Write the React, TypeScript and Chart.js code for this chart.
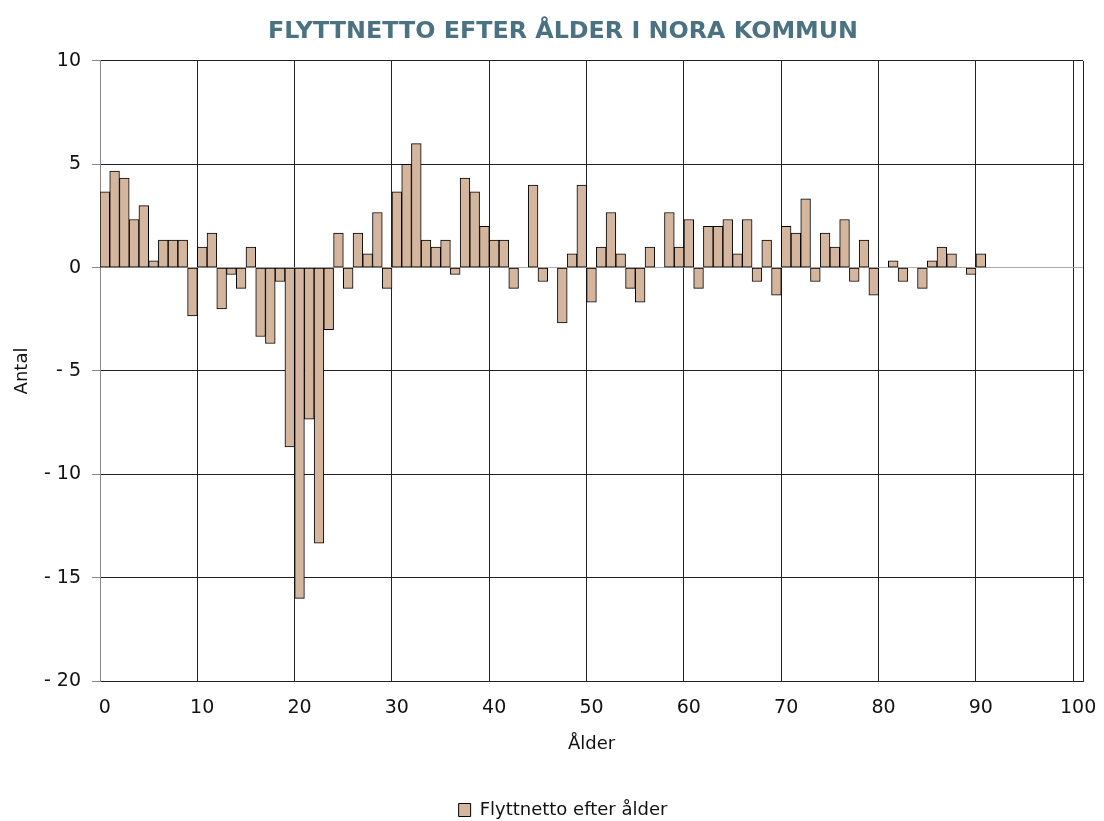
import React, { useEffect, useRef } from "react";
import { Chart, registerables } from "chart.js";

Chart.register(...registerables);

const CHART_TITLE = "FLYTTNETTO EFTER ÅLDER I NORA KOMMUN";
const SERIES_LABEL = "Flyttnetto efter ålder";
const X_TITLE = "Ålder";
const Y_TITLE = "Antal";

// Ages 0..100
const ages: string[] = Array.from({ length: 101 }, (_, i) => String(i));

// Net migration per age
const netMigration: number[] = [
  3.67, 4.67, 4.33, 2.33, 3.0, 0.33, 1.33, 1.33, 1.33, -2.33,
  1.0, 1.67, -2.0, -0.33, -1.0, 1.0, -3.33, -3.67, -0.67, -8.67,
  -16.0, -7.33, -13.33, -3.0, 1.67, -1.0, 1.67, 0.67, 2.67, -1.0,
  3.67, 5.0, 6.0, 1.33, 1.0, 1.33, -0.33, 4.33, 3.67, 2.0,
  1.33, 1.33, -1.0, 0, 4.0, -0.67, 0, -2.67, 0.67, 4.0,
  -1.67, 1.0, 2.67, 0.67, -1.0, -1.67, 1.0, 0, 2.67, 1.0,
  2.33, -1.0, 2.0, 2.0, 2.33, 0.67, 2.33, -0.67, 1.33, -1.33,
  2.0, 1.67, 3.33, -0.67, 1.67, 1.0, 2.33, -0.67, 1.33, -1.33,
  0, 0.33, -0.67, 0, -1.0, 0.33, 1.0, 0.67, 0, -0.33,
  0.67, 0, 0, 0, 0, 0, 0, 0, 0, 0,
  0,
];

const Y_MIN = -20;
const Y_MAX = 10;
const Y_STEP = 5;

const FONT = "'DejaVu Sans', sans-serif";
const PAD_LEFT = 43;
const PAD_RIGHT = 21;

export default function App() {
  const canvasRef = useRef<HTMLCanvasElement | null>(null);

  useEffect(() => {
    const canvas = canvasRef.current;
    if (!canvas) return;
    const chart = new Chart(canvas, {
      type: "bar",
      data: {
        labels: ages,
        datasets: [
          {
            label: SERIES_LABEL,
            data: netMigration,
            backgroundColor: "#D4B59D",
            borderColor: "#000000",
            borderWidth: 1,
            borderSkipped: false,
            categoryPercentage: 1.0,
            barPercentage: 1.0,
          },
        ],
      },
      options: {
        responsive: false,
        animation: false,
        layout: { padding: { top: 0, left: PAD_LEFT, right: PAD_RIGHT, bottom: -8 } },
        plugins: {
          title: {
            display: true,
            text: CHART_TITLE,
            color: "#4A7282",
            font: { family: FONT, size: 23.8, weight: "bold", lineHeight: 1.2 },
            padding: { top: 17.5, bottom: 14.9 },
          },
          legend: {
            display: true,
            position: "bottom",
            labels: {
              color: "#111111",
              font: { family: FONT, size: 18 },
              boxWidth: 12,
              boxHeight: 13,
              padding: 10,
            },
          },
          tooltip: { enabled: false },
        },
        scales: {
          x: {
            type: "category",
            offset: true,
            afterFit: (scale: any) => {
              scale.height = 110;
              scale.paddingLeft = 0;
              scale.paddingRight = 0;
            },
            grid: {
              offset: true,
              drawTicks: false,
              lineWidth: 1,
              color: (ctx: any) => {
                if (ctx.tick === undefined || ctx.index === undefined) return "#222222";
                if (ctx.index > 0 && ctx.index % 10 === 0) return "#222222";
                return "rgba(0,0,0,0)";
              },
            },
            border: { display: true, color: "#222222", width: 1 },
            ticks: {
              autoSkip: false,
              maxRotation: 0,
              minRotation: 0,
              padding: 16,
              color: "#111111",
              font: { family: FONT, size: 19 },
              callback: (_v: any, idx: number) => (idx % 10 === 0 ? ages[idx] : ""),
            },
            title: {
              display: true,
              text: X_TITLE,
              color: "#111111",
              font: { family: FONT, size: 18, lineHeight: 1.2 },
              padding: { top: 0, bottom: 36 },
            },
          },
          y: {
            min: Y_MIN,
            max: Y_MAX,
            afterFit: (scale: any) => {
              scale.width = 100 - PAD_LEFT;
            },
            grid: {
              drawTicks: true,
              tickLength: 8,
              tickColor: "#888888",
              lineWidth: 1,
              color: (ctx: any) => {
                if (ctx.tick && ctx.tick.value === 0) return "#ABABAB";
                return "#222222";
              },
            },
            border: { display: true, color: "#888888", width: 1 },
            ticks: {
              stepSize: Y_STEP,
              padding: 11,
              color: "#111111",
              font: { family: FONT, size: 19 },
              callback: (v: any) => {
                const n = Number(v);
                return n < 0 ? "- " + Math.abs(n) : String(n);
              },
            },
            title: {
              display: true,
              text: Y_TITLE,
              color: "#111111",
              font: { family: FONT, size: 18, lineHeight: 1.2 },
              padding: { top: 22 - PAD_LEFT - 10.8, bottom: 0 },
            },
          },
        },
      },
    });
    return () => chart.destroy();
  }, []);

  return (
    <div style={{ position: "absolute", left: 0, top: 0, width: 1104, height: 821, background: "#ffffff" }}>
      <canvas ref={canvasRef} width={1104} height={821} style={{ display: "block" }} />
    </div>
  );
}
